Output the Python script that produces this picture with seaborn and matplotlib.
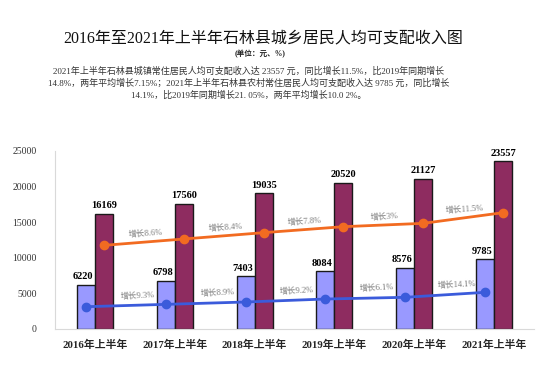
import matplotlib
matplotlib.use("Agg")
import matplotlib.pyplot as plt
import seaborn as sns
import pandas as pd

years = ["2016年上半年", "2017年上半年", "2018年上半年", "2019年上半年", "2020年上半年", "2021年上半年"]
rural_income = [6220, 6798, 7403, 8084, 8576, 9785]
urban_income = [16169, 17560, 19035, 20520, 21127, 23557]
urban_line = [11750, 12640, 13530, 14370, 14840, 16340]
rural_line = [3130, 3460, 3790, 4210, 4450, 5150]
urban_growth = ["增长8.6%", "增长8.4%", "增长7.8%", "增长3%", "增长11.5%"]
rural_growth = ["增长9.3%", "增长8.9%", "增长9.2%", "增长6.1%", "增长14.1%"]
series_names = ["农村", "城镇"]

title = "2016年至2021年上半年石林县城乡居民人均可支配收入图"
unit = "(单位：元、%)"
para = ("2021年上半年石林县城镇常住居民人均可支配收入达 23557 元，同比增长11.5%，比2019年同期增长\n"
        "14.8%，两年平均增长7.15%；2021年上半年石林县农村常住居民人均可支配收入达 9785 元，同比增长\n"
        "14.1%，比2019年同期增长21. 05%，两年平均增长10.0 2%。")

sns.set_style("white")
fam = ["Liberation Serif", "Noto Sans CJK SC", "DejaVu Sans"]
plt.rcParams["font.family"] = fam

df = pd.DataFrame({
    "year": years * 2,
    "value": rural_income + urban_income,
    "series": [series_names[0]] * 6 + [series_names[1]] * 6,
})

fig = plt.figure(figsize=(5.54, 3.83), dpi=100)
ax = fig.add_axes([55 / 554, 1 - 329 / 383, (534 - 55) / 554, (329 - 151) / 383])

colors = {"农村": "#9999FF", "城镇": "#8E2C60"}
sns.barplot(data=df, x="year", y="value", hue="series", palette=colors, width=0.45,
            edgecolor="#1a1a1a", linewidth=1.0, ax=ax, legend=False, saturation=1)

off = 0.1125
xs = list(range(len(years)))
ax.plot([x - off for x in xs], rural_line, color="#3B5BDB", lw=2, marker="o", ms=6, zorder=5)
ax.plot([x + off for x in xs], urban_line, color="#F26B21", lw=2, marker="o", ms=6, zorder=5)

for i in xs:
    ax.text(i - off - 0.04, rural_income[i] + 500, f"{rural_income[i]}", ha="center", va="bottom",
            fontsize=7.5, color="#000000", fontweight="bold")
    ax.text(i + off, urban_income[i] + 500, f"{urban_income[i]}", ha="center", va="bottom",
            fontsize=7.5, color="#000000", fontweight="bold")

for i in range(5):
    xm = i + 0.63
    ym = (urban_line[i] + urban_line[i + 1]) / 2
    ax.annotate(urban_growth[i], (xm, ym), xytext=(0, 6), textcoords="offset points",
                ha="center", va="center", fontsize=6, color="#7a7a7a", rotation=4, zorder=6)
    xm = i + 0.53
    ym = (rural_line[i] + rural_line[i + 1]) / 2
    ax.annotate(rural_growth[i], (xm, ym), xytext=(0, 7), textcoords="offset points",
                ha="center", va="center", fontsize=6, color="#7a7a7a", rotation=3, zorder=6)

ax.set_xlim(-0.5, 5.5)
ax.set_ylim(0, 25000)
ax.set_yticks([0, 5000, 10000, 15000, 20000, 25000])
ax.set_xlabel("")
ax.set_ylabel("")
for s in ["top", "right"]:
    ax.spines[s].set_visible(False)
for s in ["left", "bottom"]:
    ax.spines[s].set_color("#d9d9d9")
    ax.spines[s].set_linewidth(0.8)
ax.set_xticks([x + 0.5 for x in range(-1, 6)], minor=True)
ax.tick_params(axis="x", which="major", length=0, labelsize=7.8, pad=8)
ax.tick_params(axis="x", which="minor", length=3, color="#d9d9d9", direction="out")
ax.tick_params(axis="y", length=3, color="#d9d9d9", labelsize=7, labelcolor="#333333", pad=10)
for lab in ax.get_xticklabels():
    lab.set_fontweight("bold")

fig.text(263 / 554, 1 - 38 / 383, title, ha="center", va="center", fontsize=11.5, color="#111111")
fig.text(260 / 554, 1 - 54 / 383, unit, ha="center", va="center", fontsize=5.5,
         fontweight="bold", color="#222222")
fig.text(249 / 554, 1 - 83 / 383, para, ha="center", va="center", fontsize=6.5,
         color="#333333", linespacing=1.4)

fig.savefig("out.png", dpi=100)
